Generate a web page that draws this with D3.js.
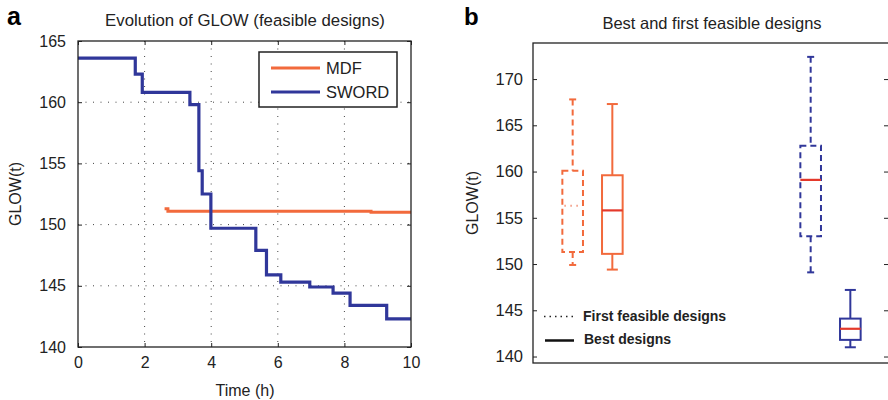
<!DOCTYPE html>
<html>
<head>
<meta charset="utf-8">
<script src="https://cdn.jsdelivr.net/npm/d3@7"></script>
<style>
  body { margin: 0; background: #fff; }
  svg { display: block; font-family: "Liberation Sans", Arial, sans-serif; }
</style>
</head>
<body>
<svg id="chart" width="888" height="400"></svg>
<script>
// ---- data: panel a (step curves) ----
const swordTime = [0, 1.72, 1.93, 3.36, 3.63, 3.73, 3.99, 5.34, 5.66, 6.09, 6.96, 7.66, 8.17, 9.27, 10];
const swordGlow = [163.6, 162.3, 160.8, 159.8, 154.4, 152.5, 149.7, 147.9, 145.9, 145.3, 144.9, 144.4, 143.4, 142.3, 142.3];
const mdfTime = [2.6, 2.7, 8.8, 10];
const mdfGlow = [151.3, 151.1, 151.0, 151.0];
const xTicksA = [0, 2, 4, 6, 8, 10];
const yTicksA = [140, 145, 150, 155, 160, 165];

// ---- data: panel b (box plots) ----
const boxNames = ["MDF first", "MDF best", "SWORD first", "SWORD best"];
const boxPos = [1, 2, 7, 8];
const whiskLo = [149.9, 149.4, 149.1, 141.0];
const q1 = [151.3, 151.1, 153.0, 141.8];
const med = [156.3, 155.8, 159.1, 143.0];
const q3 = [160.1, 159.6, 162.8, 144.1];
const whiskHi = [167.8, 167.3, 172.4, 147.2];
const yTicksB = [140, 145, 150, 155, 160, 165, 170];

const orange = "#f26a3c", blue = "#30379a", red = "#e4392b";
const svg = d3.select("#chart");

// ================= panel a =================
const A = {left: 78, right: 411, top: 41, bottom: 347};
const xA = d3.scaleLinear().domain([0, 10]).range([A.left, A.right]);
const yA = d3.scaleLinear().domain([140, 165]).range([A.bottom, A.top]);

const gA = svg.append("g");

// dotted grid
gA.append("g").selectAll("line").data(xTicksA.slice(1, -1)).enter().append("line")
  .attr("x1", d => xA(d)).attr("x2", d => xA(d))
  .attr("y1", A.top).attr("y2", A.bottom)
  .attr("stroke", "#444").attr("stroke-width", 1).attr("stroke-dasharray", "1,6.5");
gA.append("g").selectAll("line").data(yTicksA.slice(1, -1)).enter().append("line")
  .attr("y1", d => yA(d)).attr("y2", d => yA(d))
  .attr("x1", A.left).attr("x2", A.right)
  .attr("stroke", "#444").attr("stroke-width", 1).attr("stroke-dasharray", "1,6.5");

// axes (ticks inward)
gA.append("g").attr("transform", `translate(0,${A.bottom})`)
  .call(d3.axisBottom(xA).tickValues(xTicksA).tickSize(-4).tickPadding(10))
  .call(g => g.select(".domain").remove());
gA.append("g").attr("transform", `translate(0,${A.top})`)
  .call(d3.axisTop(xA).tickValues(xTicksA).tickSize(-4).tickFormat(""))
  .call(g => g.select(".domain").remove());
gA.append("g").attr("transform", `translate(${A.left},0)`)
  .call(d3.axisLeft(yA).tickValues(yTicksA).tickSize(-4).tickPadding(12))
  .call(g => g.select(".domain").remove());
gA.append("g").attr("transform", `translate(${A.right},0)`)
  .call(d3.axisRight(yA).tickValues(yTicksA).tickSize(-4).tickFormat(""))
  .call(g => g.select(".domain").remove());
gA.selectAll(".tick text").attr("font-size", 16).attr("fill", "#222").attr("font-family", "Liberation Sans, Arial, sans-serif");
gA.selectAll(".tick line").attr("stroke", "#222");

const line = d3.line().x(d => xA(d[0])).y(d => yA(d[1])).curve(d3.curveStepAfter);
gA.append("path").datum(d3.zip(mdfTime, mdfGlow)).attr("d", line)
  .attr("fill", "none").attr("stroke", orange).attr("stroke-width", 3);
gA.append("path").datum(d3.zip(swordTime, swordGlow)).attr("d", line)
  .attr("fill", "none").attr("stroke", blue).attr("stroke-width", 3.2);

gA.append("rect").attr("x", A.left).attr("y", A.top)
  .attr("width", A.right - A.left).attr("height", A.bottom - A.top)
  .attr("fill", "none").attr("stroke", "#222").attr("stroke-width", 1.3);

// legend
const legA = gA.append("g");
legA.append("rect").attr("x", 259).attr("y", 52).attr("width", 138).attr("height", 55)
  .attr("fill", "#fff").attr("stroke", "#222").attr("stroke-width", 1.5);
[["MDF", orange, 68], ["SWORD", blue, 92]].forEach(([name, col, y]) => {
  legA.append("line").attr("x1", 271).attr("x2", 320).attr("y1", y).attr("y2", y)
    .attr("stroke", col).attr("stroke-width", 3);
  legA.append("text").attr("x", 326).attr("y", y + 6).attr("font-size", 16.5).attr("fill", "#222").text(name);
});

gA.append("text").attr("x", 245).attr("y", 26).attr("text-anchor", "middle")
  .attr("font-size", 16.8).attr("fill", "#222").text("Evolution of GLOW (feasible designs)");
gA.append("text").attr("x", 245).attr("y", 396).attr("text-anchor", "middle")
  .attr("font-size", 16).attr("fill", "#222").text("Time (h)");
gA.append("text").attr("transform", `translate(21,${(A.top + A.bottom) / 2}) rotate(-90)`)
  .attr("text-anchor", "middle").attr("font-size", 16).attr("fill", "#222").text("GLOW(t)");
gA.append("text").attr("x", 7).attr("y", 25).attr("font-size", 25).attr("font-weight", "bold").text("a");

// ================= panel b =================
const B = {left: 533, right: 890, top: 43, bottom: 363};
const xB = d3.scaleLinear().domain([0, 9]).range([B.left, B.right]);
const yB = d3.scaleLinear().domain([139.3, 173.9]).range([B.bottom, B.top]);
const gB = svg.append("g");

gB.append("g").attr("transform", `translate(${B.left},0)`)
  .call(d3.axisLeft(yB).tickValues(yTicksB).tickSize(-4).tickPadding(10))
  .call(g => g.select(".domain").remove());
gB.append("g").attr("transform", `translate(${B.right - 2},0)`)
  .call(d3.axisRight(yB).tickValues(yTicksB).tickSize(-4).tickFormat(""))
  .call(g => g.select(".domain").remove());
gB.selectAll(".tick text").attr("font-size", 16.5).attr("fill", "#222").attr("font-family", "Liberation Sans, Arial, sans-serif");
gB.selectAll(".tick line").attr("stroke", "#222");

gB.append("rect").attr("x", B.left).attr("y", B.top)
  .attr("width", B.right - B.left).attr("height", B.bottom - B.top)
  .attr("fill", "none").attr("stroke", "#222").attr("stroke-width", 1.3);

const boxes = boxNames.map((n, i) => ({
  name: n, pos: boxPos[i], lo: whiskLo[i], q1: q1[i], med: med[i], q3: q3[i], hi: whiskHi[i],
  color: i < 2 ? orange : blue, dashed: i % 2 === 0
}));
const halfW = (xB(1) - xB(0)) * 0.26;

boxes.forEach((b, i) => {
  const cx = xB(b.pos);
  const dash = b.dashed ? "6,4" : null;
  const capW = b.dashed ? 3.5 : 5.5;
  const g = gB.append("g").attr("stroke", b.color).attr("stroke-width", 2).attr("fill", "none");
  // whiskers
  g.append("line").attr("x1", cx).attr("x2", cx).attr("y1", yB(b.hi)).attr("y2", yB(b.q3)).attr("stroke-dasharray", dash);
  g.append("line").attr("x1", cx).attr("x2", cx).attr("y1", yB(b.q1)).attr("y2", yB(b.lo)).attr("stroke-dasharray", dash);
  // caps
  [b.hi, b.lo].forEach(v => g.append("line").attr("x1", cx - capW).attr("x2", cx + capW)
    .attr("y1", yB(v)).attr("y2", yB(v)));
  // box
  g.append("rect").attr("x", cx - halfW).attr("y", yB(b.q3))
    .attr("width", 2 * halfW).attr("height", yB(b.q1) - yB(b.q3)).attr("stroke-dasharray", dash);
  // median
  const m = g.append("line").attr("x1", cx - halfW + 2).attr("x2", cx + halfW - 2)
    .attr("y1", yB(b.med)).attr("y2", yB(b.med));
  if (i === 0) m.attr("stroke", "#f39a82").attr("stroke-width", 2).attr("stroke-dasharray", "1.5,4.5");
  else m.attr("stroke", red).attr("stroke-width", 2.2).attr("x1", cx - halfW).attr("x2", cx + halfW);
});

// legend
const legB = gB.append("g");
legB.append("line").attr("x1", 544).attr("x2", 573).attr("y1", 316.5).attr("y2", 316.5)
  .attr("stroke", "#222").attr("stroke-width", 1.5).attr("stroke-dasharray", "1.5,4");
legB.append("line").attr("x1", 545).attr("x2", 574).attr("y1", 340.5).attr("y2", 340.5)
  .attr("stroke", "#111").attr("stroke-width", 2.5);
legB.append("text").attr("x", 583).attr("y", 321).attr("font-size", 14).attr("font-weight", "bold")
  .attr("fill", "#222").text("First feasible designs");
legB.append("text").attr("x", 584).attr("y", 344).attr("font-size", 14).attr("font-weight", "bold")
  .attr("fill", "#222").text("Best designs");

gB.append("text").attr("x", 712).attr("y", 29).attr("text-anchor", "middle")
  .attr("font-size", 16.5).attr("fill", "#222").text("Best and first feasible designs");
gB.append("text").attr("transform", `translate(478,${(B.top + B.bottom) / 2}) rotate(-90)`)
  .attr("text-anchor", "middle").attr("font-size", 16).attr("fill", "#222").text("GLOW(t)");
gB.append("text").attr("x", 464).attr("y", 25).attr("font-size", 24).attr("font-weight", "bold").text("b");
</script>
</body>
</html>
